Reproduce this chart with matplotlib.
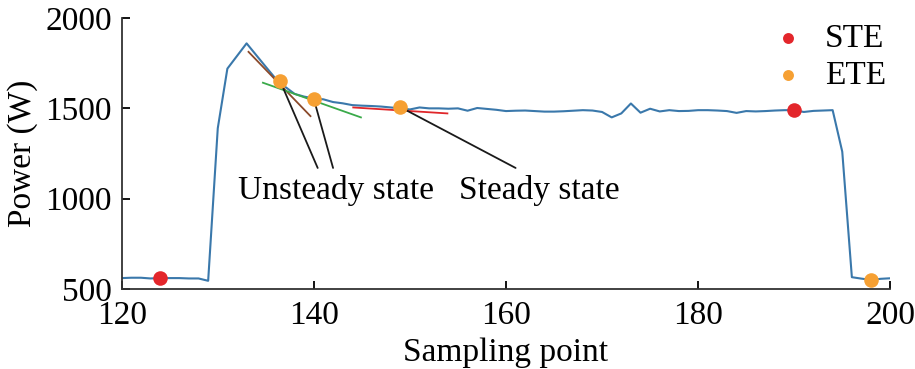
import numpy as np
import matplotlib.pyplot as plt

plt.rcParams['font.family'] = ['Liberation Serif', 'DejaVu Serif']

# sampled power, one value per sampling point 120..200
sample_x = np.arange(120, 201)
power = [560, 562, 562, 558, 560, 560, 560, 558, 558, 545,
         1390, 1720, 1790, 1860, 1795, 1730, 1666, 1620, 1580, 1565,
         1555, 1550, 1535, 1528, 1518, 1515, 1513, 1510, 1505, 1500,
         1494, 1505, 1500, 1500, 1498, 1500, 1487, 1502, 1497, 1492,
         1485, 1487, 1488, 1485, 1482, 1482, 1484, 1487, 1490, 1488,
         1480, 1450, 1472, 1527, 1476, 1498, 1483, 1490, 1485, 1486,
         1490, 1490, 1488, 1485, 1475, 1485, 1483, 1485, 1488, 1490,
         1490, 1480, 1486, 1488, 1490, 1260, 565, 557, 550, 556,
         559]

ste_x = [124, 190]
ste_y = [560, 1490]
ete_x = [136.5, 140, 149, 198]
ete_y = [1650, 1551, 1507, 550]

# fitted segments
fit1_x = [133.2, 139.65]
fit1_y = [1813, 1457]
fit2_x = [134.7, 144.9]
fit2_y = [1642, 1450]
fit3_x = [144.1, 153.9]
fit3_y = [1505, 1472]

fig = plt.figure(figsize=(9.15, 3.69), dpi=100)
ax = fig.add_axes([0.133, 0.217, 0.84, 0.734])

ax.plot(sample_x, power, color='#3a78ab', lw=1.5, zorder=2)
ax.plot(fit1_x, fit1_y, color='#8b4a2b', lw=1.3, zorder=3)
ax.plot(fit2_x, fit2_y, color='#3aaa4a', lw=1.3, zorder=3)
ax.plot(fit3_x, fit3_y, color='#e0262a', lw=1.3, zorder=3)

# annotation connectors
ann_pts = [(ete_x[0], ete_y[0], 140.4, 1170),
           (ete_x[1], ete_y[1], 142.0, 1170),
           (ete_x[2], ete_y[2], 161.0, 1170)]
for px, py, tx, ty in ann_pts:
    ax.annotate('', xy=(px, py), xytext=(tx, ty),
                arrowprops=dict(arrowstyle='-', color='#1a1a1a', lw=1.3,
                                shrinkA=0, shrinkB=0), zorder=4)

ax.scatter(ste_x, ste_y, s=110, color='#e3262b', zorder=5, label='STE', linewidths=0)
ax.scatter(ete_x, ete_y, s=110, color='#f6a033', zorder=5, label='ETE', linewidths=0)

ax.text(142.3, 1045, 'Unsteady state', fontsize=24, ha='center', va='center')
ax.text(163.5, 1045, 'Steady state', fontsize=24, ha='center', va='center')

ax.set_xlim(120, 200)
ax.set_ylim(500, 2000)
ax.set_xticks([120, 140, 160, 180, 200])
ax.set_yticks([500, 1000, 1500, 2000])
ax.tick_params(direction='in', length=6, width=1.3, labelsize=24)
ax.tick_params(axis='x', pad=8)
ax.tick_params(axis='y', pad=7)
for s in ['top', 'right']:
    ax.spines[s].set_visible(False)
for s in ['left', 'bottom']:
    ax.spines[s].set_linewidth(1.3)
    ax.spines[s].set_color('#333333')

ax.set_xlabel('Sampling point', fontsize=24, labelpad=5)
ax.set_ylabel('Power (W)', fontsize=24, labelpad=5)

leg = ax.legend(loc='upper right', frameon=False, fontsize=24, handletextpad=0.1,
                markerscale=0.75, borderaxespad=0.0, labelspacing=0.2,
                bbox_to_anchor=(1.012, 1.03))

fig.savefig('out.png', dpi=100)
